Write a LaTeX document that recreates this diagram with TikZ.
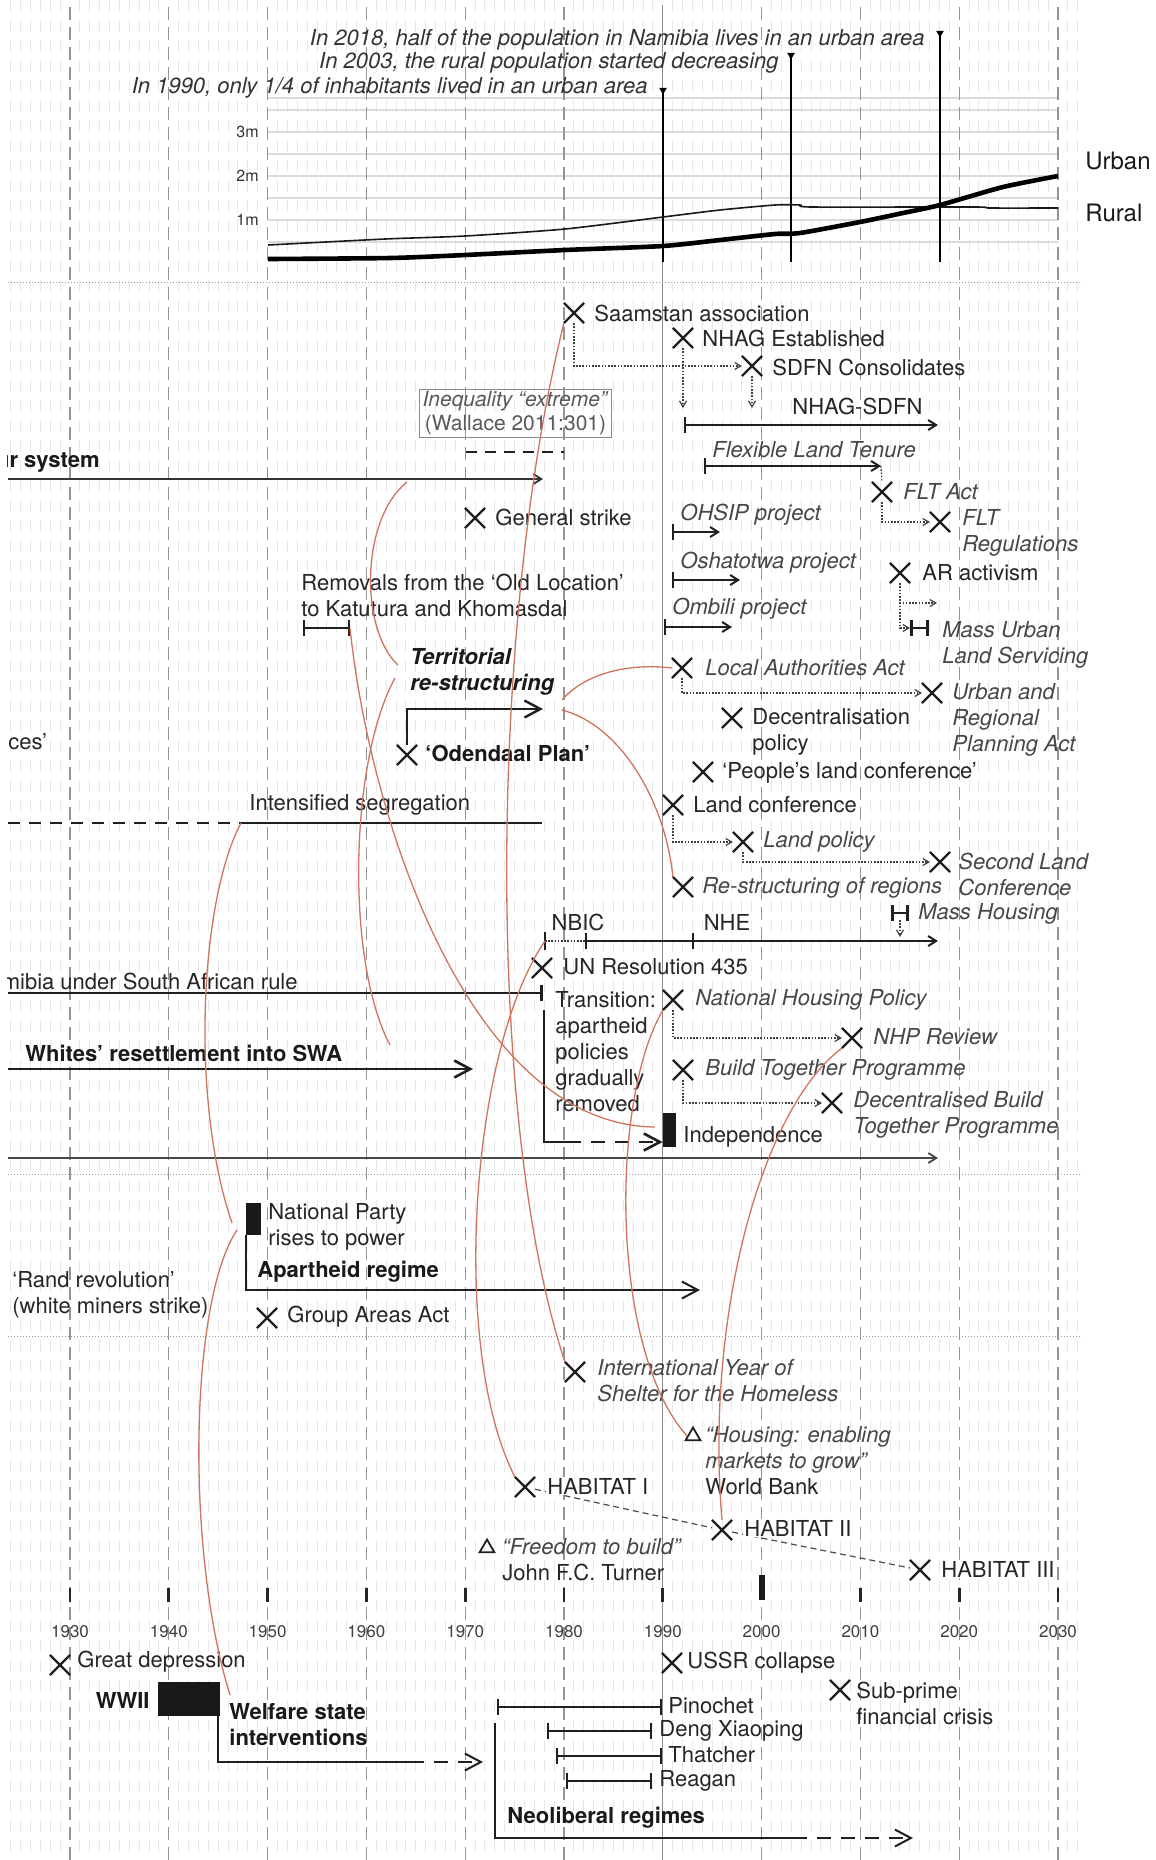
\documentclass[tikz,border=0pt]{standalone}
\usepackage{fontspec}
\setmainfont{TeX Gyre Heros}
\usetikzlibrary{arrows.meta,shapes.misc,shapes.geometric,calc}
\definecolor{redc}{RGB}{208,116,96}
\tikzset{
  bigbarb/.tip={Straight Barb[length=8pt,width=8.5pt]},
  smallbarb/.tip={Straight Barb[length=4pt,width=5pt]},
  dotbarb/.tip={Straight Barb[length=3pt,width=3.5pt]},
  tickbar/.tip={Bar[width=8pt]},
  lbl/.style={font=\fontsize{11}{13}\selectfont, text=black!85, inner sep=0pt, anchor=west, align=left},
  itl/.style={lbl, font=\fontsize{11}{13}\selectfont\itshape, text=black!72},
  bfl/.style={lbl, font=\fontsize{11}{13}\selectfont\bfseries, text=black!90},
  bil/.style={lbl, font=\fontsize{11}{13}\selectfont\bfseries\itshape, text=black!90},
  xm/.style={cross out, draw=black!88, line width=1.1pt, minimum size=9pt, inner sep=0pt},
  tri/.style={regular polygon, regular polygon sides=3, draw=black!88, line width=0.9pt, minimum size=8.5pt, inner sep=0pt},
  dtri/.style={regular polygon, regular polygon sides=3, shape border rotate=180, fill=black, minimum size=4.5pt, inner sep=0pt},
  redline/.style={draw=redc, line width=0.65pt},
  dotc/.style={draw=black!75, line width=0.6pt, dash pattern=on 0.8pt off 0.8pt},
  tlA/.style={draw=black!88, line width=1pt},
  tlB/.style={draw=black!88, line width=1.3pt},
  tlT/.style={draw=black!75, line width=0.8pt},
  yeargrid/.style={draw=black!9, line width=0.5pt, dash pattern=on 6pt off 4pt},
  decgrid/.style={draw=black!42, line width=0.6pt, dash pattern=on 6.5pt off 3.5pt},
  seprule/.style={draw=black!40, line width=0.5pt, dash pattern=on 0.6pt off 0.9pt},
  blk/.style={fill=black!90, inner sep=0pt},
}
\begin{document}
\begin{tikzpicture}[x=0.5pt,y=-0.5pt]
\useasboundingbox (0,0) rectangle (1156,1860);
\fill[white] (0,0) rectangle (1156,1860);
\clip (7,0) rectangle (1156,1860);

% ---------------- grids
\foreach \k in {-6,...,102}{
  \pgfmathtruncatemacro\mm{mod(\k+10,10)}
  \ifnum\mm=0 \else
    \draw[yeargrid] ({70+9.88*\k},0) -- ({70+9.88*\k},1860);
  \fi
}
\foreach \yy in {98,110,132,154,176,198,220,242}
  \draw[black!14, line width=0.6pt] (268,\yy) -- (1058,\yy);
\foreach \k in {0,...,10}{
  \ifnum\k=6 \else
    \draw[decgrid] ({70+98.8*\k},7) -- ({70+98.8*\k},1860);
  \fi
}
\draw[black!45, line width=0.5pt] (662.8,5) -- (662.8,1860);
\foreach \yy in {282,1174,1336}
  \draw[seprule] (8,\yy) -- (1082,\yy);

% ---------------- population chart
\node[itl, anchor=east, text=black!80] (t18) at (925,39.5) {In 2018, half of the population in Namibia lives in an urban area};
\node[itl, anchor=east, text=black!80] (t03) at (779,63) {In 2003, the rural population started decreasing};
\node[itl, anchor=east, text=black!80] (t90) at (648,88) {In 1990, only 1/4 of inhabitants lived in an urban area};
\node[dtri] (v18) at (940,33) {};
\node[dtri] (v03) at (791,55) {};
\node[dtri] (v90) at (663,90) {};
\coordinate (b18) at (940,262);
\coordinate (b03) at (791,262);
\coordinate (b90) at (663,262);
\draw[black, line width=0.6pt] (v18.center) -- (b18);
\draw[black, line width=0.6pt] (v03.center) -- (b03);
\draw[black, line width=0.6pt] (v90.center) -- (b90);
\node[lbl, anchor=east, font=\fontsize{8}{9}\selectfont, text=black!80] (m3) at (259,132) {3m};
\node[lbl, anchor=east, font=\fontsize{8}{9}\selectfont, text=black!80] (m2) at (259,176) {2m};
\node[lbl, anchor=east, font=\fontsize{8}{9}\selectfont, text=black!80] (m1) at (259,220) {1m};
\node[lbl, font=\fontsize{12}{14}\selectfont, text=black!90] (urb) at (1085,161) {Urban};
\node[lbl, font=\fontsize{12}{14}\selectfont, text=black!90] (rur) at (1085,213) {Rural};
\draw[black!90, line width=0.8pt] plot[smooth, tension=0.4] coordinates {(268,245) (385,239) (465,236) (565,229) (663,217) (720,210) (775,205) (800,205) (812,207) (975,207) (990,208) (1058,208)};
\draw[black, line width=2.3pt] plot[smooth, tension=0.4] coordinates {(268,259) (390,258) (465,255) (565,250) (663,246) (720,240) (775,234) (800,233) (860,222) (903,213) (940,205) (1003,187) (1058,176)};

% ---------------- Namibia events
\node[xm] (saX) at (574,313) {};
\node[lbl] (saL) at (594,313) {Saamstan association};
\node[xm] (nhX) at (683,338) {};
\node[lbl] (nhL) at (702,338) {NHAG Established};
\node[xm] (sdX) at (752,366) {};
\node[lbl] (sdL) at (772,367) {SDFN Consolidates};
\draw[dotc, -dotbarb] (saX.south) |- (sdX.west);
\coordinate (ns0) at (684,425);
\coordinate (ns1) at (938,425);
\draw[dotc, -dotbarb] (nhX.south) -- ($(nhX.south |- ns0)+(0,-17)$);
\draw[dotc, -dotbarb] (sdX.south) -- ($(sdX.south |- ns0)+(0,-17)$);
\draw[tlA, tickbar-smallbarb] (ns0) -- (ns1);
\node[lbl] (nsL) at (792,406) {NHAG-SDFN};

\node[draw=black!45, line width=0.5pt, text=black!65, align=center, inner xsep=1.5pt, inner ysep=1pt,
      font=\fontsize{10.5}{12}\selectfont] (ineq) at (515.5,413.5) {\textit{Inequality “extreme”}\\(Wallace 2011:301)};
\draw[draw=black!88, line width=1.2pt, dash pattern=on 5.5pt off 4pt] (466,452) -- (564,452);

\node[bfl, anchor=east] (usL) at (100,462) {ur system};
\coordinate (us0) at (8,479);
\coordinate (us1) at (543,479);
\draw[draw=black!80, line width=0.9pt, -smallbarb] (us0) -- (us1);

\node[itl] (flL) at (712,450) {Flexible Land Tenure};
\coordinate (fl0) at (704,466);
\coordinate (flt1) at (881,466);
\draw[tlA, tickbar-smallbarb] (fl0) -- (flt1);
\node[xm] (faX) at (882,492) {};
\node[itl] (faL) at (903,492) {FLT Act};
\node[xm] (frX) at (940,522) {};
\node[itl] (frL) at (962,533) {FLT\\Regulations};
\draw[dotc] (flt1) -- (faX.north);
\draw[dotc, -dotbarb] (faX.south) |- (frX.west);

\node[xm] (gsX) at (475,518) {};
\node[lbl] (gsL) at (495,517) {General strike};

\node[itl] (ohL) at (680,515) {OHSIP project};
\draw[tlA, tickbar-smallbarb] (672,532) -- (720,532);
\node[itl] (osL) at (680,563) {Oshatotwa project};
\draw[tlA, tickbar-smallbarb] (672,580) -- (740,580);
\node[itl] (omL) at (672,609) {Ombili project};
\draw[tlA, tickbar-smallbarb] (664,627) -- (732,627);

\node[xm] (arX) at (900,573) {};
\node[lbl] (arL) at (922,573) {AR activism};
\coordinate (are) at (937,603);
\coordinate (mu0) at (910,628);
\coordinate (mu1) at (929,628);
\draw[dotc, -dotbarb] (arX.south) |- (are);
\draw[dotc, -dotbarb] (arX.south) |- (mu0);
\draw[draw=black!88, line width=1.3pt, tickbar-tickbar] (mu0) -- (mu1);
\node[itl] (muL) at (942,645) {Mass Urban\\Land Servicing};

\node[lbl] (rmL) at (301,595) {Removals from the ‘Old Location’\\to Katutura and Khomasdal};
\coordinate (rm0) at (303,628);
\coordinate (rm1) at (350,628);
\draw[tlA, tickbar-tickbar] (rm0) -- (rm1);

\node[bil] (trL) at (410,672) {Territorial\\re-structuring};
\node[xm] (odX) at (407,755) {};
\node[bfl] (odL) at (425,753) {‘Odendaal Plan’};
\coordinate (tr1) at (543,709);
\draw[draw=black!88, line width=1.2pt, -bigbarb] (odX.north) |- (tr1);

\node[xm] (laX) at (682,668) {};
\node[itl] (laL) at (705,668) {Local Authorities Act};
\node[xm] (urX) at (932,693) {};
\node[itl] (urL) at (952,720) {Urban and\\Regional\\Planning Act};
\draw[dotc, -dotbarb] (laX.south) |- (urX.west);

\node[xm] (dpX) at (732,718) {};
\node[lbl] (dpL) at (752,732) {Decentralisation\\policy};
\node[xm] (plX) at (703,772) {};
\node[lbl] (plL) at (722,773) {‘People’s land conference’};
\node[lbl] (cesL) at (8,742) {ces’};

\node[lbl] (isL) at (249,805) {Intensified segregation};
\coordinate (is00) at (8,823);
\coordinate (is0) at (241,823);
\coordinate (is1) at (542,823);
\draw[draw=black!88, line width=1.3pt, dash pattern=on 6pt off 4.5pt] (is00) -- (is0);
\draw[tlB] (is0) -- (is1);

\node[xm] (lcX) at (673,805) {};
\node[lbl] (lcL) at (693,805) {Land conference};
\node[xm] (lpX) at (743,842) {};
\node[itl] (lpL) at (763,842) {Land policy};
\node[xm] (slX) at (940,862) {};
\node[itl] (slL) at (958,874) {Second Land\\Conference};
\draw[dotc, -dotbarb] (lcX.south) |- (lpX.west);
\draw[dotc, -dotbarb] (lpX.south) |- (slX.west);

\node[xm] (rsX) at (683,887) {};
\node[itl] (rsL) at (702,888) {Re-structuring of regions};

\coordinate (mh0) at (891,913);
\coordinate (mh1) at (909,913);
\draw[draw=black!88, line width=1.3pt, tickbar-tickbar] (mh0) -- (mh1);
\node[itl] (mhL) at (918,914) {Mass Housing};
\coordinate (mhc) at (900,920);
\coordinate (mhe) at (900,937);
\draw[dotc, -dotbarb] (mhc) -- (mhe);

\coordinate (nb0) at (545,941);
\coordinate (nb1) at (585,941);
\coordinate (nb3) at (938,941);
\draw[tlA] (545,932) -- (545,950);
\draw[draw=black!80, line width=0.9pt, dash pattern=on 0.8pt off 0.8pt] (nb0) -- (nb1);
\draw[tlA, tickbar-smallbarb] (nb1) -- (nb3);
\draw[tlA] (693,933) -- (693,949);
\node[lbl, anchor=center] (nbL) at (578,922) {NBIC};
\node[lbl, anchor=center] (nheL) at (727,922) {NHE};

\node[xm] (unX) at (542,968) {};
\node[lbl] (unL) at (563,967) {UN Resolution 435};

\node[lbl, anchor=east] (sarL) at (298,981) {mibia under South African rule};
\coordinate (sar0) at (8,993);
\coordinate (sar1) at (543,993);
\draw[tlB, -tickbar] (sar0) -- (sar1);

\coordinate (tb0) at (544,1010);
\coordinate (tb) at (544,1142);
\coordinate (tb2) at (567,1142);
\node[blk, minimum width=6.5pt, minimum height=17pt] (ind) at (669.5,1130) {};
\draw[tlB] (tb0) -- (tb) -- (tb2);
\draw[tlB, dash pattern=on 7pt off 5pt, -bigbarb] (tb2) -- (ind.west |- tb2);
\node[lbl] (tnL) at (555,1052) {Transition:\\apartheid\\policies\\gradually\\removed};
\node[lbl] (indL) at (683,1137) {Independence};

\node[xm] (npX) at (673,1000) {};
\node[itl] (npL) at (695,1000) {National Housing Policy};
\node[xm] (nrX) at (852,1038) {};
\node[itl] (nrL) at (873,1037) {NHP Review};
\draw[dotc, -dotbarb] (npX.south) |- (nrX.west);

\node[bfl] (whL) at (25,1053) {Whites’ resettlement into SWA};
\coordinate (wh0) at (8,1069);
\coordinate (wh1) at (473,1069);
\draw[tlB, -bigbarb] (wh0) -- (wh1);

\node[xm] (btX) at (683,1070) {};
\node[itl] (btL) at (705,1070) {Build Together Programme};
\node[xm] (dbX) at (832,1103) {};
\node[itl] (dbL) at (853,1115) {Decentralised Build\\Together Programme};
\draw[dotc, -dotbarb] (btX.south) |- (dbX.west);

\coordinate (ln0) at (8,1158);
\coordinate (ln1) at (938,1158);
\draw[draw=black!72, line width=0.9pt, -smallbarb] (ln0) -- (ln1);

% ---------------- South Africa
\node[blk, minimum width=7.5pt, minimum height=16pt] (npr) at (253.5,1219) {};
\node[lbl] (nprL) at (268,1227) {National Party\\rises to power};
\coordinate (ap1) at (700,1290);
\draw[tlA, -bigbarb] (npr.south west) |- (ap1);
\node[bfl] (apL) at (257,1272) {Apartheid regime};
\node[xm] (gaX) at (267,1318) {};
\node[lbl] (gaL) at (287,1317) {Group Areas Act};
\node[lbl] (rrL) at (12,1295) {‘Rand revolution’\\(white miners strike)};

% ---------------- international
\node[xm] (iyX) at (575,1372) {};
\node[itl] (iyL) at (597,1381) {International Year of\\Shelter for the Homeless};
\node[tri] (wbT) at (693,1436) {};
\node[lbl] (wbL) at (705,1461) {{\color{black!72}\itshape “Housing: enabling}\\{\color{black!72}\itshape markets to grow”}\\World Bank};
\node[xm] (h1X) at (525,1487) {};
\node[xm] (h2X) at (722,1530) {};
\node[xm] (h3X) at (920,1570) {};
\draw[draw=black!70, line width=0.6pt, dash pattern=on 3pt off 2pt] (h1X) -- (h2X);
\draw[draw=black!70, line width=0.6pt, dash pattern=on 3pt off 2pt] (h2X) -- (h3X);
\node[lbl, fill=white, inner sep=0.5pt] (h1L) at (546,1486) {HABITAT I};
\node[lbl, fill=white, inner sep=0.5pt] (h2L) at (743,1528) {HABITAT II};
\node[lbl, fill=white, inner sep=0.5pt] (h3L) at (940,1569) {HABITAT III};
\node[tri] (ftT) at (487,1548) {};
\node[lbl] (ftL) at (502,1560) {{\color{black!72}\itshape “Freedom to build”}\\John F.C. Turner};

% ---------------- axis
\foreach \k in {0,...,10}{
  \ifnum\k=7 \else
    \draw[draw=black!85, line width=1.4pt] ({70+98.8*\k},1588) -- ({70+98.8*\k},1602);
  \fi
  \pgfmathtruncatemacro\yrr{1930+10*\k}
  \node[font=\fontsize{8.5}{10}\selectfont, text=black!75, inner sep=0pt] (yr\k) at ({70+98.8*\k},1632) {\yrr};
}
\fill[black!90] (759,1575) rectangle (764.5,1600);

% ---------------- world events
\node[xm] (gdX) at (60,1665) {};
\node[lbl] (gdL) at (77,1662) {Great depression};
\node[bfl, anchor=east] (wwL) at (150,1700) {WWII};
\node[blk, minimum width=31pt, minimum height=17pt] (wwR) at (189,1699) {};
\node[bfl] (wfL) at (229,1725) {Welfare state\\interventions};
\coordinate (wf0) at (218,1716);
\coordinate (wf1) at (218,1762);
\coordinate (wf2) at (410,1762);
\coordinate (wf3) at (483,1762);
\draw[tlA] (wf0) -- (wf1) -- (wf2);
\draw[tlA, dash pattern=on 7pt off 5pt, -bigbarb] (wf2) -- (wf3);

\node[xm] (usX) at (672,1663) {};
\node[lbl] (usL2) at (687,1663) {USSR collapse};
\node[xm] (spX) at (840,1690) {};
\node[lbl] (spL) at (856,1703) {Sub-prime\\financial crisis};

\draw[tlA, tickbar-tickbar] (497,1707) -- (662,1707);
\node[lbl] (piL) at (668,1706) {Pinochet};
\draw[tlA, tickbar-tickbar] (547,1731) -- (652,1731);
\node[lbl] (deL) at (659,1731) {Deng Xiaoping};
\draw[tlA, tickbar-tickbar] (556,1756) -- (662,1756);
\node[lbl] (thL) at (668,1755) {Thatcher};
\draw[tlA, tickbar-tickbar] (566,1781) -- (652,1781);
\node[lbl] (reL) at (659,1781) {Reagan};
\coordinate (nl0) at (495,1723);
\coordinate (nl1) at (495,1838);
\coordinate (nl2) at (793,1838);
\coordinate (nl3) at (913,1838);
\draw[tlA] (nl0) -- (nl1) -- (nl2);
\draw[tlA, dash pattern=on 7pt off 5pt, -bigbarb] (nl2) -- (nl3);
\node[bfl] (nlL) at (507,1818) {Neoliberal regimes};

% ---------------- red connectors
\coordinate (c2a) at (407,482);
\coordinate (c2b) at (398,665);
\coordinate (c3a) at (395,678);
\coordinate (c3b) at (390,1045);
\coordinate (c4b) at (232,1223);
\coordinate (c5a) at (237,1230);
\coordinate (c5b) at (230,1695);
\coordinate (c6b) at (655,1127);
\coordinate (c11a) at (562,700);
\coordinate (c12a) at (562,710);
\draw[redline] (saX.south west) .. controls (490,620) and (485,1120) .. (iyX.north west);
\draw[redline] (c2a) .. controls (360,520) and (360,630) .. (c2b);
\draw[redline] (c3a) .. controls (350,760) and (345,960) .. (c3b);
\draw[redline] (is0) .. controls (200,900) and (190,1100) .. (c4b);
\draw[redline] (c5a) .. controls (190,1300) and (185,1550) .. (c5b);
\draw[redline] (rm1) .. controls (370,820) and (470,1125) .. (c6b);
\draw[redline] (nb0) .. controls (470,1050) and (450,1350) .. (h1X.north west);
\draw[redline] (npX.south west) .. controls (610,1100) and (610,1350) .. (wbT.west);
\draw[redline] (nrX.south west) .. controls (760,1110) and (705,1320) .. (h2X.north);
\draw[redline] (c11a) .. controls (590,668) and (640,664) .. (laX.west);
\draw[redline] (c12a) .. controls (620,725) and (665,800) .. (rsX.north west);
\end{tikzpicture}
\end{document}
